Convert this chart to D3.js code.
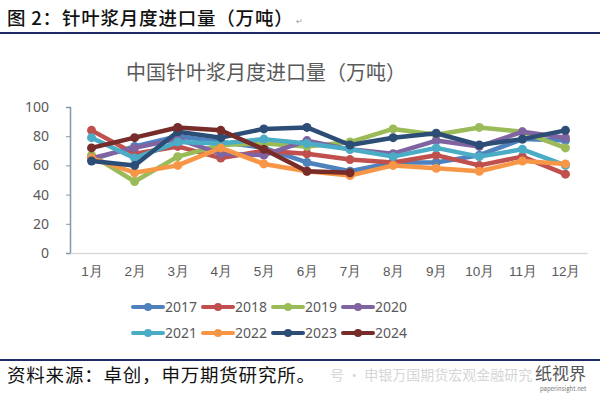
<!DOCTYPE html>
<html>
<head>
<meta charset="utf-8">
<script src="https://cdn.jsdelivr.net/npm/d3@7"></script>
<style>
  body { margin: 0; background: #fff; }
  svg { display: block; font-family: "Noto Sans CJK SC", "Noto Sans", sans-serif; }
</style>
</head>
<body>
<svg id="chart" width="600" height="395"></svg>
<script>
const months = ['1月', '2月', '3月', '4月', '5月', '6月', '7月', '8月', '9月', '10月', '11月', '12月'];
const yTicks = [0, 20, 40, 60, 80, 100];
const years = ['2017', '2018', '2019', '2020', '2021', '2022', '2023', '2024'];
const colors = ['#4F81BD', '#C0504D', '#9BBB59', '#8064A2', '#4BACC6', '#F79646', '#2C4D75', '#772C2A'];

const v2017 = [64, 73, 80, 76, 72, 62, 56, 62, 62, 67, 78, 77];
const v2018 = [84, 68, 73, 65, 70, 68, 64, 62, 67, 60, 66, 54];
const v2019 = [67, 49, 66, 74, 75, 73, 76, 85, 81, 86, 83, 72];
const v2020 = [65, 72, 78, 68, 67, 77, 71, 68, 77, 73, 83, 79];
const v2021 = [79, 65, 76, 75, 78, 75, 71, 66, 72, 66, 71, 60];
const v2022 = [65, 55, 60, 72, 61, 56, 53, 60, 58, 56, 63, 61];
const v2023 = [63, 60, 83, 79, 85, 86, 74, 79, 82, 74, 78, 84];
const v2024 = [72, 79, 86, 84, 71, 56, 55];

const seriesValues = [v2017, v2018, v2019, v2020, v2021, v2022, v2023, v2024];

const svg = d3.select('#chart');

// header and footer rules, like the report page
svg.append('text')
  .attr('x', 7).attr('y', 25)
  .attr('font-size', 18.5).attr('font-weight', 500).attr('fill', '#111')
  .attr('letter-spacing', 0.8)
  .text('图 2：针叶浆月度进口量（万吨）');
svg.append('text')
  .attr('x', 296).attr('y', 24)
  .attr('font-size', 8).attr('fill', '#999')
  .text('↵');
svg.append('line')
  .attr('x1', 0).attr('x2', 600).attr('y1', 33).attr('y2', 33)
  .attr('stroke', '#1F2A6B').attr('stroke-width', 2);

svg.append('text')
  .attr('x', 266).attr('y', 80)
  .attr('text-anchor', 'middle')
  .attr('font-size', 20).attr('fill', '#595959')
  .text('中国针叶浆月度进口量（万吨）');

const plot = { left: 70, right: 587, top: 107, bottom: 253 };

const x = d3.scalePoint()
  .domain(months)
  .range([plot.left, plot.right])
  .padding(0.5);

const y = d3.scaleLinear()
  .domain([0, 100])
  .range([plot.bottom, plot.top]);

// y axis
const yAxis = svg.append('g')
  .attr('transform', `translate(${plot.left},0)`)
  .call(d3.axisLeft(y).tickValues(yTicks).tickSize(4).tickPadding(17));
yAxis.select('.domain').attr('stroke', '#7F9AAB').attr('stroke-width', 1.5);
yAxis.selectAll('.tick line').attr('stroke', '#7F9AAB');
yAxis.selectAll('.tick text')
  .attr('font-size', 14).attr('fill', '#595959')
  .attr('font-family', '"Liberation Sans Narrow", "Noto Sans", sans-serif');

// x axis
const xAxis = svg.append('g')
  .attr('transform', `translate(0,${plot.bottom})`)
  .call(d3.axisBottom(x).tickSize(0).tickPadding(13));
xAxis.select('.domain').attr('stroke', '#D9D9D9').attr('stroke-width', 1.5);
xAxis.selectAll('.tick text')
  .attr('font-size', 13.5).attr('fill', '#595959');

// series
const line = d3.line()
  .x((d, i) => x(months[i]))
  .y(d => y(d));

const seriesG = svg.append('g');
seriesValues.forEach((vals, k) => {
  const g = seriesG.append('g');
  g.append('path')
    .datum(vals)
    .attr('fill', 'none')
    .attr('stroke', colors[k])
    .attr('stroke-width', 4.5)
    .attr('stroke-linejoin', 'round')
    .attr('d', line);
  g.selectAll('circle')
    .data(vals)
    .join('circle')
    .attr('cx', (d, i) => x(months[i]))
    .attr('cy', d => y(d))
    .attr('r', 4.5)
    .attr('fill', colors[k]);
});

// legend, two rows of four
const legend = svg.append('g');
years.forEach((yr, k) => {
  const col = k % 4, row = Math.floor(k / 4);
  const lx = 133 + col * 70, ly = 307 + row * 26;
  const item = legend.append('g').attr('transform', `translate(${lx},${ly})`);
  item.append('line')
    .attr('x1', 0).attr('x2', 30)
    .attr('stroke', colors[k]).attr('stroke-width', 4)
    .attr('stroke-linecap', 'round');
  item.append('circle').attr('cx', 15).attr('r', 4).attr('fill', colors[k]);
  item.append('text')
    .attr('x', 32).attr('y', 5)
    .attr('font-size', 14).attr('fill', '#595959')
    .attr('font-family', '"Liberation Sans Narrow", "Noto Sans", sans-serif')
    .text(yr);
});

// footer
svg.append('line')
  .attr('x1', 0).attr('x2', 600).attr('y1', 360).attr('y2', 360)
  .attr('stroke', '#1F2A6B').attr('stroke-width', 2);
svg.append('text')
  .attr('x', 330).attr('y', 380)
  .attr('font-size', 14).attr('fill', '#D6D6D6')
  .text('号 · 申银万国期货宏观金融研究');
svg.append('text')
  .attr('x', 7).attr('y', 382)
  .attr('font-size', 18.5).attr('fill', '#111')
  .attr('letter-spacing', 0.8)
  .text('资料来源：卓创，申万期货研究所。');
svg.append('text')
  .attr('x', 535).attr('y', 380)
  .attr('font-size', 17).attr('fill', '#555')
  .text('纸视界');
svg.append('text')
  .attr('x', 540).attr('y', 391)
  .attr('font-size', 6).attr('fill', '#777')
  .text('paperinsight.net');
</script>
</body>
</html>
